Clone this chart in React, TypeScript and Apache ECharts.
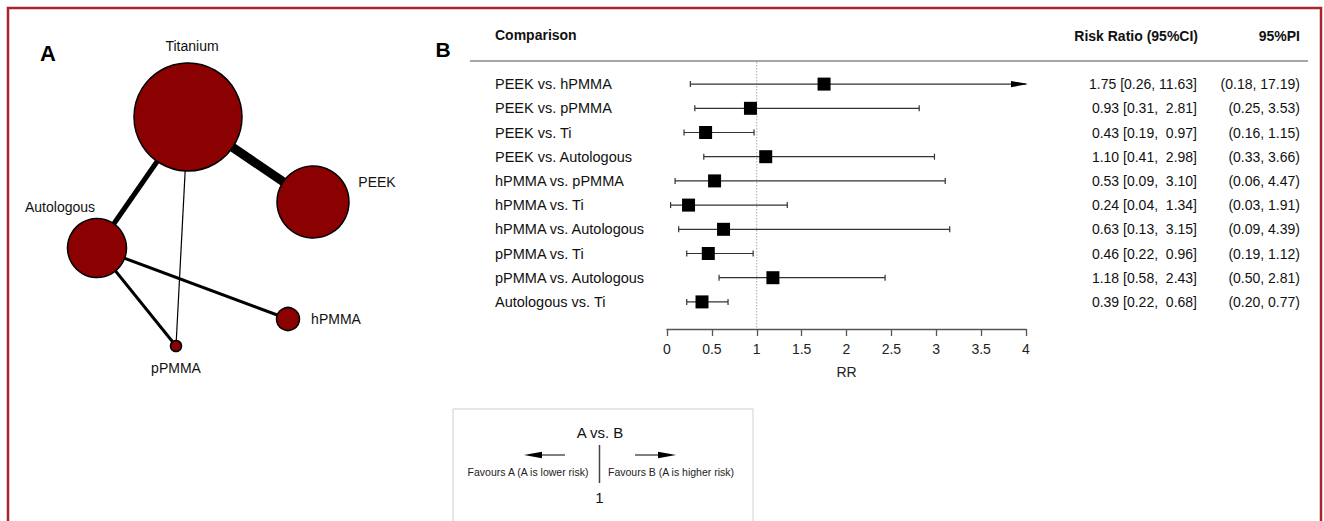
import React, { useEffect, useRef } from "react";
import * as echarts from "echarts";

// ---------- Forest plot data (panel B) ----------
const comparisons = [
  "PEEK vs. hPMMA",
  "PEEK vs. pPMMA",
  "PEEK vs. Ti",
  "PEEK vs. Autologous",
  "hPMMA vs. pPMMA",
  "hPMMA vs. Ti",
  "hPMMA vs. Autologous",
  "pPMMA vs. Ti",
  "pPMMA vs. Autologous",
  "Autologous vs. Ti",
];
const riskRatio = [1.75, 0.93, 0.43, 1.1, 0.53, 0.24, 0.63, 0.46, 1.18, 0.39];
const ciLower = [0.26, 0.31, 0.19, 0.41, 0.09, 0.04, 0.13, 0.22, 0.58, 0.22];
const ciUpper = [11.63, 2.81, 0.97, 2.98, 3.1, 1.34, 3.15, 0.96, 2.43, 0.68];
const piLower = [0.18, 0.25, 0.16, 0.33, 0.06, 0.03, 0.09, 0.19, 0.5, 0.2];
const piUpper = [17.19, 3.53, 1.15, 3.66, 4.47, 1.91, 4.39, 1.12, 2.81, 0.77];
const rrAxisMin = 0;
const rrAxisMax = 4;
const rrAxisInterval = 0.5;
const nullEffect = 1;

// ---------- Network data (panel A) ----------
const treatments = ["Titanium", "PEEK", "Autologous", "hPMMA", "pPMMA"];
const layoutX = [188, 313, 97, 288, 176];
const layoutY = [117, 202, 248, 319, 346];
const nodeWeight = [108, 72, 59, 23, 11];
const edgeSource = ["Titanium", "Titanium", "Titanium", "Autologous", "Autologous"];
const edgeTarget = ["PEEK", "Autologous", "pPMMA", "hPMMA", "pPMMA"];
const edgeWeight = [9, 5, 1.2, 3, 3];

const FONT = '"Liberation Sans", Arial, Helvetica, sans-serif';

const labelOffsets: Record<string, number[]> = {
  Titanium: [4, -71],
  PEEK: [64, -20],
  Autologous: [-37, -41],
  hPMMA: [48, 0],
  pPMMA: [0, 22],
};

const fmt = (v: number) => v.toFixed(2);
const ciText = riskRatio.map(
  (r, i) => `${fmt(r)} [${fmt(ciLower[i])}, ${fmt(ciUpper[i]).padStart(5, "\u00a0")}]`
);
const piText = piLower.map((l, i) => `(${fmt(l)}, ${fmt(piUpper[i])})`);

export default function App() {
  const ref = useRef<HTMLDivElement>(null);

  useEffect(() => {
    if (!ref.current) return;
    const chart = echarts.init(ref.current, null, { renderer: "svg" });

    const option: any = {
      animation: false,
      textStyle: { fontFamily: FONT },
      grid: [
        { left: 667, top: 72, width: 359, height: 242, containLabel: false },
        { left: 0, top: 0, width: 420, height: 420, containLabel: false },
      ],
      xAxis: [
        {
          gridIndex: 0,
          type: "value",
          min: rrAxisMin,
          max: rrAxisMax,
          interval: rrAxisInterval,
          offset: 15,
          splitLine: { show: false },
          axisLine: { show: true, lineStyle: { color: "#555", width: 1.3 } },
          axisTick: { show: true, length: 7, lineStyle: { color: "#555", width: 1.3 } },
          axisLabel: { fontSize: 14, color: "#222", margin: 13, fontFamily: FONT },
          name: "RR",
          nameLocation: "middle",
          nameGap: 36,
          nameTextStyle: { fontSize: 14, color: "#222", fontFamily: FONT },
        },
        { gridIndex: 1, type: "value", min: 0, max: 420, show: false },
      ],
      yAxis: [
        {
          gridIndex: 0,
          type: "category",
          data: comparisons,
          inverse: true,
          axisLine: { show: false },
          axisTick: { show: false },
          splitLine: { show: false },
          axisLabel: {
            interval: 0,
            align: "left",
            margin: 172,
            fontSize: 14.5,
            color: "#111",
            fontFamily: FONT,
          },
        },
        {
          gridIndex: 0,
          type: "category",
          data: comparisons,
          inverse: true,
          position: "right",
          axisLine: { show: false },
          axisTick: { show: false },
          splitLine: { show: false },
          axisLabel: {
            interval: 0,
            align: "right",
            margin: 171,
            fontSize: 14,
            color: "#111",
            fontFamily: FONT,
            formatter: (_v: string, i: number) => ciText[i],
          },
        },
        {
          gridIndex: 0,
          type: "category",
          data: comparisons,
          inverse: true,
          position: "right",
          axisLine: { show: false },
          axisTick: { show: false },
          splitLine: { show: false },
          axisLabel: {
            interval: 0,
            align: "right",
            margin: 274,
            fontSize: 14,
            color: "#111",
            fontFamily: FONT,
            formatter: (_v: string, i: number) => piText[i],
          },
        },
        { gridIndex: 1, type: "value", min: 0, max: 420, inverse: true, show: false },
      ],
      series: [
        {
          type: "custom",
          name: "null line",
          xAxisIndex: 0,
          yAxisIndex: 0,
          z: 1,
          silent: true,
          data: [[nullEffect, 0]],
          renderItem: (params: any, api: any) => {
            const cs = params.coordSys;
            const x = api.coord([api.value(0), 0])[0];
            return {
              type: "line",
              shape: { x1: x, y1: cs.y - 10, x2: x, y2: cs.y + cs.height + 15 },
              style: { stroke: "#aaa", lineWidth: 1, lineDash: [1.5, 1.5] },
            };
          },
        },
        {
          type: "custom",
          name: "95% CI",
          xAxisIndex: 0,
          yAxisIndex: 0,
          z: 2,
          silent: true,
          clip: false,
          encode: { x: [0, 1], y: 2 },
          data: ciLower.map((l, i) => [l, ciUpper[i], i]),
          renderItem: (_params: any, api: any) => {
            const lo = api.value(0);
            const hi = api.value(1);
            const idx = api.value(2);
            const p0 = api.coord([Math.max(lo, rrAxisMin), idx]);
            const p1 = api.coord([Math.min(hi, rrAxisMax), idx]);
            const st = { stroke: "#333", lineWidth: 1.2 };
            const children: any[] = [
              { type: "line", shape: { x1: p0[0], y1: p0[1], x2: p1[0], y2: p1[1] }, style: st },
              { type: "line", shape: { x1: p0[0], y1: p0[1] - 3, x2: p0[0], y2: p0[1] + 3 }, style: st },
            ];
            if (hi > rrAxisMax) {
              children.push({
                type: "polygon",
                shape: {
                  points: [
                    [p1[0] + 2, p1[1]],
                    [p1[0] - 15, p1[1] - 3.2],
                    [p1[0] - 15, p1[1] + 3.2],
                  ],
                },
                style: { fill: "#000" },
              });
            } else {
              children.push({
                type: "line",
                shape: { x1: p1[0], y1: p1[1] - 3, x2: p1[0], y2: p1[1] + 3 },
                style: st,
              });
            }
            return { type: "group", children };
          },
        },
        {
          type: "scatter",
          name: "Risk ratio",
          xAxisIndex: 0,
          yAxisIndex: 0,
          z: 3,
          symbol: "rect",
          symbolSize: 13,
          itemStyle: { color: "#000", opacity: 1 },
          data: riskRatio.map((v, i) => [v, i]),
        },
        {
          type: "graph",
          name: "network",
          coordinateSystem: "cartesian2d",
          xAxisIndex: 1,
          yAxisIndex: 3,
          layout: "none",
          roam: false,
          silent: true,
          z: 2,
          itemStyle: { color: "#8b0000", borderColor: "#000", borderWidth: 1.5 },
          lineStyle: { color: "#000", opacity: 1, curveness: 0 },
          label: {
            show: true,
            position: "inside",
            fontSize: 14,
            color: "#111",
            fontFamily: FONT,
          },
          data: treatments.map((t, i) => ({
            name: t,
            value: [layoutX[i], layoutY[i]],
            symbolSize: nodeWeight[i],
            label: { offset: labelOffsets[t] },
          })),
          links: edgeSource.map((s, i) => ({
            source: s,
            target: edgeTarget[i],
            lineStyle: { width: edgeWeight[i] },
          })),
        },
      ],
      graphic: [
        {
          type: "rect",
          shape: { x: 8, y: 8, width: 1313, height: 560 },
          style: { fill: "none", stroke: "#a8252b", lineWidth: 2.5 },
          silent: true,
        },
        {
          type: "text",
          x: 48,
          y: 53,
          style: {
            text: "A",
            font: `bold 22px ${FONT}`,
            fill: "#000",
            align: "center",
            verticalAlign: "middle",
          },
        },
        {
          type: "text",
          x: 443,
          y: 49,
          style: {
            text: "B",
            font: `bold 21px ${FONT}`,
            fill: "#000",
            align: "center",
            verticalAlign: "middle",
          },
        },
        {
          type: "text",
          x: 495,
          y: 35,
          style: {
            text: "Comparison",
            font: `bold 14px ${FONT}`,
            fill: "#111",
            align: "left",
            verticalAlign: "middle",
          },
        },
        {
          type: "text",
          x: 1198,
          y: 36,
          style: {
            text: "Risk Ratio (95%CI)",
            font: `bold 14px ${FONT}`,
            fill: "#111",
            align: "right",
            verticalAlign: "middle",
          },
        },
        {
          type: "text",
          x: 1300,
          y: 36,
          style: {
            text: "95%PI",
            font: `bold 14px ${FONT}`,
            fill: "#111",
            align: "right",
            verticalAlign: "middle",
          },
        },
        {
          type: "line",
          shape: { x1: 470, y1: 61, x2: 1308, y2: 61 },
          style: { stroke: "#888", lineWidth: 1.6 },
          silent: true,
        },
        {
          type: "rect",
          shape: { x: 453, y: 409, width: 300, height: 160 },
          style: { fill: "#fff", stroke: "#cfcfcf", lineWidth: 1 },
          silent: true,
        },
        {
          type: "text",
          x: 600,
          y: 432,
          style: {
            text: "A vs. B",
            font: `15px ${FONT}`,
            fill: "#111",
            align: "center",
            verticalAlign: "middle",
          },
        },
        {
          type: "line",
          shape: { x1: 599.5, y1: 445, x2: 599.5, y2: 483 },
          style: { stroke: "#444", lineWidth: 1.5 },
        },
        {
          type: "line",
          shape: { x1: 541, y1: 455, x2: 565, y2: 455 },
          style: { stroke: "#000", lineWidth: 1 },
        },
        {
          type: "polygon",
          shape: { points: [[524, 455], [542, 451.8], [542, 458.2]] },
          style: { fill: "#000" },
        },
        {
          type: "line",
          shape: { x1: 635, y1: 455, x2: 659, y2: 455 },
          style: { stroke: "#000", lineWidth: 1 },
        },
        {
          type: "polygon",
          shape: { points: [[676, 455], [658, 451.8], [658, 458.2]] },
          style: { fill: "#000" },
        },
        {
          type: "text",
          x: 528,
          y: 472,
          style: {
            text: "Favours A (A is lower risk)",
            font: `10.5px ${FONT}`,
            fill: "#222",
            align: "center",
            verticalAlign: "middle",
          },
        },
        {
          type: "text",
          x: 671,
          y: 472,
          style: {
            text: "Favours B (A is higher risk)",
            font: `10.5px ${FONT}`,
            fill: "#222",
            align: "center",
            verticalAlign: "middle",
          },
        },
        {
          type: "text",
          x: 599.5,
          y: 497,
          style: {
            text: "1",
            font: `15px ${FONT}`,
            fill: "#111",
            align: "center",
            verticalAlign: "middle",
          },
        },
      ],
    };

    chart.setOption(option);
    return () => {
      chart.dispose();
    };
  }, []);

  return (
    <div
      ref={ref}
      style={{ position: "absolute", left: 0, top: 0, width: 1324, height: 521, background: "#fff" }}
    />
  );
}
